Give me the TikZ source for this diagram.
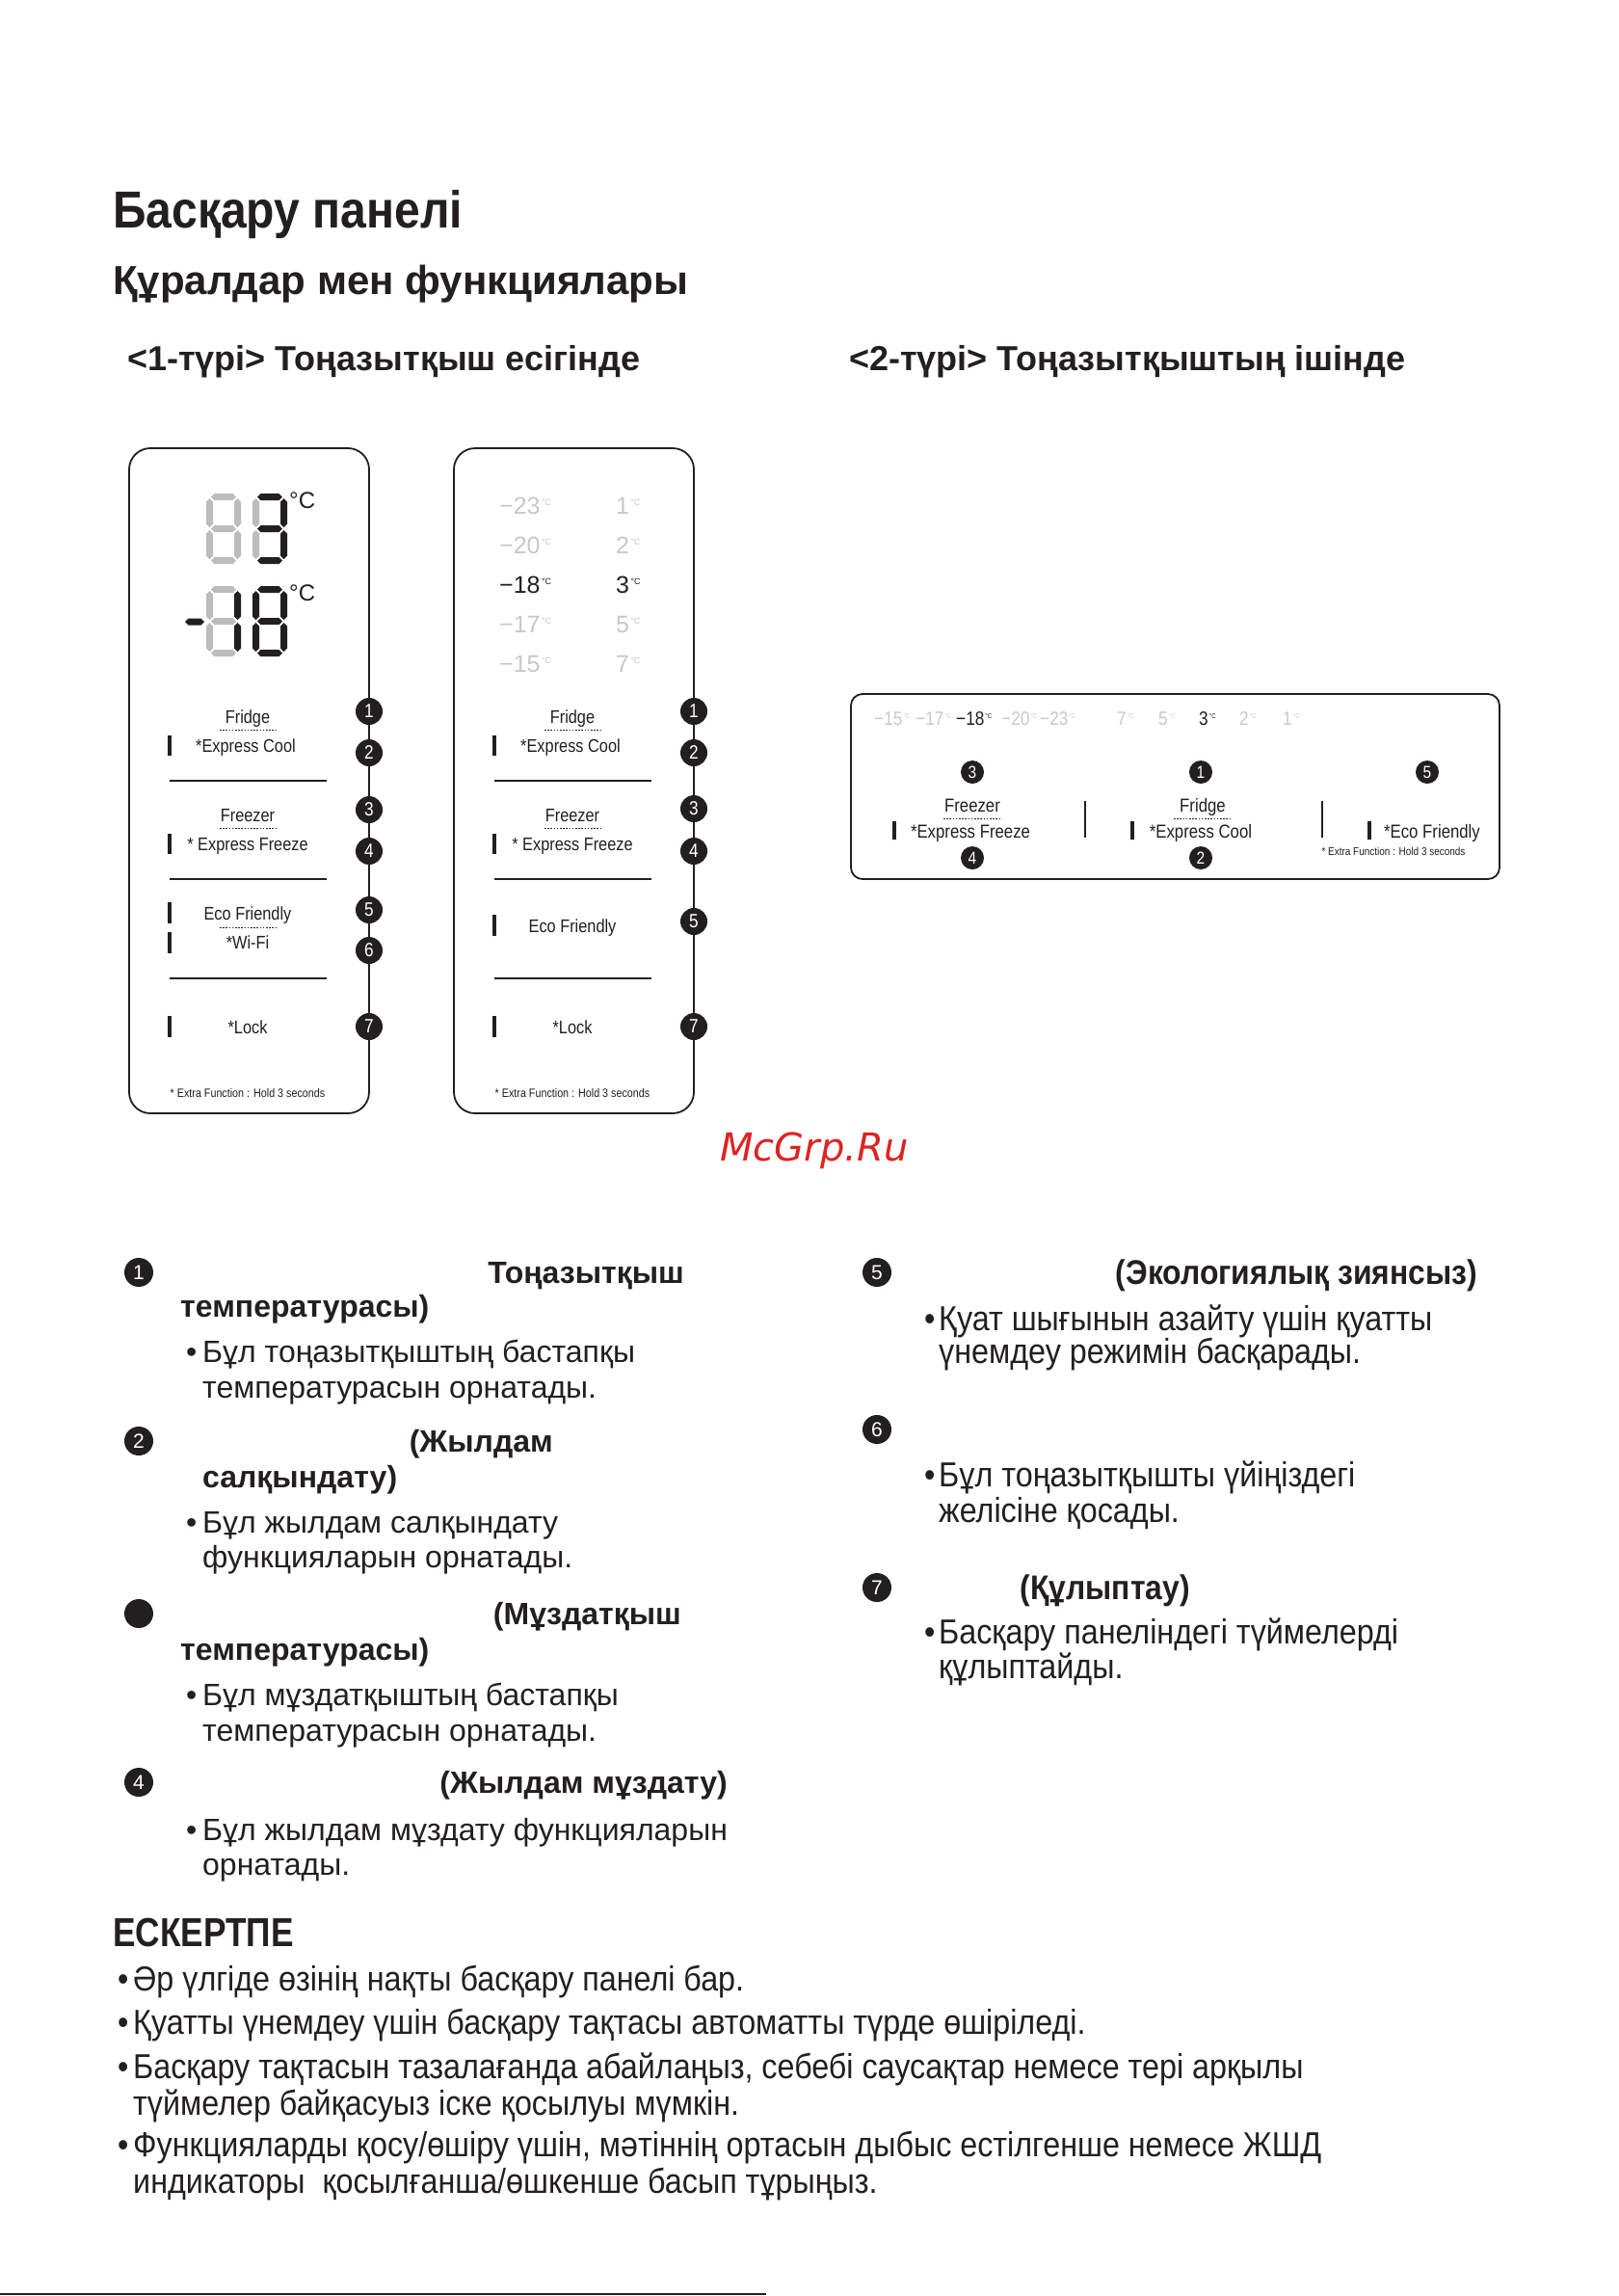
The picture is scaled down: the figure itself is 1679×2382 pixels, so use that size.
\documentclass[tikz,border=0pt]{standalone}
\usepackage{fontspec}
\setmainfont{Liberation Sans}
\newfontfamily\condf[FakeStretch=0.84]{Liberation Sans}
\newfontfamily\titlef[FakeStretch=0.89]{Liberation Sans}
\newfontfamily\narrowf[FakeStretch=0.897]{Liberation Sans}
\newfontfamily\panelf[FakeStretch=0.86]{Liberation Sans}
\newfontfamily\wmf{DejaVu Sans}
\newcommand\fsz[1]{\fontsize{#1}{#1}\selectfont}
\newcommand\bul[1]{\makebox[#1][l]{•}}
\newcommand\degsup[2]{\raisebox{#1}{\fsz{#2}\,°C}}
\definecolor{ink}{RGB}{35,31,32}
\definecolor{segoff}{RGB}{188,188,188}
\definecolor{tempoff}{RGB}{200,200,200}
\definecolor{wmred}{RGB}{222,35,35}
\newcommand\segH[4]{\fill[#4] ({#1},{#3}) -- ({#1+3.5},{#3-3.5}) -- ({#2-3.5},{#3-3.5}) -- ({#2},{#3}) -- ({#2-3.5},{#3+3.5}) -- ({#1+3.5},{#3+3.5}) -- cycle;}
\newcommand\segV[4]{\fill[#4] ({#1},{#2}) -- ({#1+3.5},{#2+3.5}) -- ({#1+3.5},{#3-3.5}) -- ({#1},{#3}) -- ({#1-3.5},{#3-3.5}) -- ({#1-3.5},{#2+3.5}) -- cycle;}
\newcommand\lcddigit[9]{%
  \segH{#1+5}{#1+31}{#2+3.5}{#3}%
  \segV{#1+32.5}{#2+5}{#2+35}{#4}%
  \segV{#1+32.5}{#2+38}{#2+68}{#5}%
  \segH{#1+5}{#1+31}{#2+69.5}{#6}%
  \segV{#1+3.5}{#2+38}{#2+68}{#7}%
  \segV{#1+3.5}{#2+5}{#2+35}{#8}%
  \segH{#1+5}{#1+31}{#2+36.5}{#9}%
}
\tikzset{
  every node/.style={inner sep=0pt, text=ink},
  tl/.style={anchor=base west},
  tr/.style={anchor=base east},
  ptxt/.style={anchor=base, font=\panelf\fsz{19}},
  psmall/.style={anchor=base, font=\panelf\fsz{12.5}},
  pnum/.style={circle, fill=ink, text=white, minimum size=28pt, inner sep=0pt, font=\panelf\fsz{20}},
  bnum/.style={circle, fill=ink, text=white, minimum size=30pt, inner sep=0pt, font=\fsz{21}},
  pbox/.style={draw=ink, line width=1.8pt, rounded corners=22pt},
  sepl/.style={draw=ink, line width=1.2pt},
  dotl/.style={draw=ink, line width=1pt, dash pattern=on 1.6pt off 1.6pt},
  ind/.style={draw=ink, line width=4.5pt},
  body/.style={anchor=base west, font=\fsz{32}},
  bhead/.style={font=\bfseries\fsz{32}},
  rbody/.style={anchor=base west, font=\narrowf\fsz{36}},
  rhead/.style={font=\narrowf\bfseries\fsz{35.5}},
  note/.style={anchor=base west, font=\narrowf\fsz{36}},
  ttl/.style={anchor=base west},
  tmpA/.style={anchor=base west, font=\fsz{25}},
  tmpB/.style={anchor=base west, font=\panelf\fsz{20}},
}
\begin{document}
\begin{tikzpicture}[x=1pt,y=-1pt]
\useasboundingbox (0,0) rectangle (1679,2382);
\fill[white] (0,0) rectangle (1679,2382);

% ---------- titles
\node[ttl, font=\titlef\bfseries\fsz{54}] (t1) at (117,236) {Басқару панелі};
\node[ttl, font=\bfseries\fsz{42}] (t2) at (117,305) {Құралдар мен функциялары};
\node[ttl, font=\bfseries\fsz{36}] (t3) at (132,384) {<1-түрі> Тоңазытқыш есігінде};
\node[ttl, font=\bfseries\fsz{36}] (t4) at (881,384) {<2-түрі> Тоңазытқыштың ішінде};

% ---------- panel 1
\draw[pbox] (134,465) rectangle (383,1155);
\lcddigit{214}{512}{segoff}{segoff}{segoff}{segoff}{segoff}{segoff}{segoff}
\lcddigit{262}{512}{ink}{ink}{ink}{ink}{segoff}{segoff}{ink}
\node[anchor=north west, font=\fsz{24}] (p1c1) at (300,511) {°C};
\segH{192}{212}{645}{ink}
\lcddigit{214}{608}{segoff}{ink}{ink}{segoff}{segoff}{segoff}{segoff}
\lcddigit{262}{608}{ink}{ink}{ink}{ink}{ink}{ink}{ink}
\node[anchor=north west, font=\fsz{24}] (p1c2) at (300,607) {°C};

\node[ptxt] (p1fr) at (257,750) {Fridge};
\draw[dotl] (228,757) -- (286,757);
\node[ptxt] (p1ec) at (255,780) {*Express Cool};
\draw[ind] (176,763) -- (176,784);
\draw[sepl] (176,810) -- (339,810);
\node[ptxt] (p1fz) at (257,852) {Freezer};
\draw[dotl] (228,859) -- (286,859);
\node[ptxt] (p1ef) at (257,882) {* Express Freeze};
\draw[ind] (176,865) -- (176,886);
\draw[sepl] (176,912) -- (339,912);
\node[ptxt] (p1eco) at (257,954) {Eco Friendly};
\draw[dotl] (228,962) -- (286,962);
\node[ptxt] (p1wf) at (257,984) {*Wi-Fi};
\draw[ind] (176,936) -- (176,958);
\draw[ind] (176,967) -- (176,989);
\draw[sepl] (176,1015) -- (339,1015);
\node[ptxt] (p1lk) at (257,1072) {*Lock};
\draw[ind] (176,1054) -- (176,1076);
\node[psmall] (p1x) at (257,1138) {* Extra Function : Hold 3 seconds};

\node[pnum] (p1n1) at (383,738) {1};
\node[pnum] (p1n2) at (383,781) {2};
\node[pnum] (p1n3) at (383,840) {3};
\node[pnum] (p1n4) at (383,883) {4};
\node[pnum] (p1n5) at (383,944) {5};
\node[pnum] (p1n6) at (383,986) {6};
\node[pnum] (p1n7) at (383,1065) {7};

% ---------- panel 2
\draw[pbox] (471,465) rectangle (720,1155);
\node[tmpA, text=tempoff] (p2a1) at (518,533) {−23\degsup{9pt}{9}};
\node[tmpA, text=tempoff] (p2a2) at (518,574) {−20\degsup{9pt}{9}};
\node[tmpA] (p2a3) at (518,615) {−18\degsup{9pt}{9}};
\node[tmpA, text=tempoff] (p2a4) at (518,656) {−17\degsup{9pt}{9}};
\node[tmpA, text=tempoff] (p2a5) at (518,697) {−15\degsup{9pt}{9}};
\node[tmpA, text=tempoff] (p2b1) at (639,533) {1\degsup{9pt}{9}};
\node[tmpA, text=tempoff] (p2b2) at (639,574) {2\degsup{9pt}{9}};
\node[tmpA] (p2b3) at (639,615) {3\degsup{9pt}{9}};
\node[tmpA, text=tempoff] (p2b4) at (639,656) {5\degsup{9pt}{9}};
\node[tmpA, text=tempoff] (p2b5) at (639,697) {7\degsup{9pt}{9}};

\node[ptxt] (p2fr) at (594,750) {Fridge};
\draw[dotl] (565,757) -- (623,757);
\node[ptxt] (p2ec) at (592,780) {*Express Cool};
\draw[ind] (513,763) -- (513,784);
\draw[sepl] (513,810) -- (676,810);
\node[ptxt] (p2fz) at (594,852) {Freezer};
\draw[dotl] (565,859) -- (623,859);
\node[ptxt] (p2ef) at (594,882) {* Express Freeze};
\draw[ind] (513,865) -- (513,886);
\draw[sepl] (513,912) -- (676,912);
\node[ptxt] (p2eco) at (594,967) {Eco Friendly};
\draw[ind] (513,949) -- (513,971);
\draw[sepl] (513,1015) -- (676,1015);
\node[ptxt] (p2lk) at (594,1072) {*Lock};
\draw[ind] (513,1054) -- (513,1076);
\node[psmall] (p2x) at (594,1138) {* Extra Function : Hold 3 seconds};

\node[pnum] (p2n1) at (720,738) {1};
\node[pnum] (p2n2) at (720,781) {2};
\node[pnum] (p2n3) at (720,839) {3};
\node[pnum] (p2n4) at (720,883) {4};
\node[pnum] (p2n5) at (720,956) {5};
\node[pnum] (p2n7) at (720,1065) {7};

% ---------- panel 3
\draw[draw=ink, line width=1.8pt, rounded corners=12pt] (883,720) rectangle (1556,912);
\node[tmpB, text=tempoff] (p3a1) at (907,752) {−15\degsup{7pt}{7}};
\node[tmpB, text=tempoff] (p3a2) at (950,752) {−17\degsup{7pt}{7}};
\node[tmpB] (p3a3) at (992,752) {−18\degsup{7pt}{7}};
\node[tmpB, text=tempoff] (p3a4) at (1039,752) {−20\degsup{7pt}{7}};
\node[tmpB, text=tempoff] (p3a5) at (1079,752) {−23\degsup{7pt}{7}};
\node[tmpB, text=tempoff] (p3b1) at (1159,752) {7\degsup{7pt}{7}};
\node[tmpB, text=tempoff] (p3b2) at (1202,752) {5\degsup{7pt}{7}};
\node[tmpB] (p3b3) at (1244,752) {3\degsup{7pt}{7}};
\node[tmpB, text=tempoff] (p3b4) at (1286,752) {2\degsup{7pt}{7}};
\node[tmpB, text=tempoff] (p3b5) at (1331,752) {1\degsup{7pt}{7}};

\node[pnum, minimum size=24pt, font=\panelf\fsz{18}] (p3n3) at (1009,801) {3};
\node[pnum, minimum size=24pt, font=\panelf\fsz{18}] (p3n1) at (1246,801) {1};
\node[pnum, minimum size=24pt, font=\panelf\fsz{18}] (p3n5) at (1481,801) {5};
\node[pnum, minimum size=24pt, font=\panelf\fsz{18}] (p3n4) at (1009,890) {4};
\node[pnum, minimum size=24pt, font=\panelf\fsz{18}] (p3n2) at (1246,890) {2};

\node[ptxt, font=\panelf\fsz{19.5}] (p3fz) at (1009,842) {Freezer};
\draw[dotl] (979,849) -- (1039,849);
\node[ptxt, font=\panelf\fsz{19.5}] (p3ef) at (1007,869) {*Express Freeze};
\draw[ind, line width=4pt] (928,852) -- (928,871);
\draw[sepl] (1126,831) -- (1126,869);
\node[ptxt, font=\panelf\fsz{19.5}] (p3fr) at (1248,842) {Fridge};
\draw[dotl] (1218,849) -- (1278,849);
\node[ptxt, font=\panelf\fsz{19.5}] (p3ec) at (1246,869) {*Express Cool};
\draw[ind, line width=4pt] (1175,852) -- (1175,871);
\draw[sepl] (1372,831) -- (1372,869);
\node[ptxt, font=\panelf\fsz{19.5}] (p3eco) at (1486,869) {*Eco Friendly};
\draw[ind, line width=4pt] (1421,852) -- (1421,871);
\node[psmall, font=\panelf\fsz{11.6}] (p3x) at (1446,887) {* Extra Function : Hold 3 seconds};

% ---------- watermark
\node[font=\wmf\itshape\fsz{40}, text=wmred] (wm) at (845,1194) {McGrp.Ru};

% ---------- descriptions, left column
\node[bnum] (d1) at (144,1320) {1};
\node[tr, bhead] (l1a) at (710,1331) {Тоңазытқыш};
\node[tl, bhead] (l1b) at (187,1366) {температурасы)};
\node[body] (l1c) at (193,1413) {\bul{17pt}Бұл тоңазытқыштың бастапқы};
\node[body] (l1d) at (210,1450) {температурасын орнатады.};

\node[bnum] (d2) at (144,1495) {2};
\node[tr, bhead] (l2a) at (574,1506) {(Жылдам};
\node[tl, bhead] (l2b) at (210,1543) {салқындату)};
\node[body] (l2c) at (193,1590) {\bul{17pt}Бұл жылдам салқындату};
\node[body] (l2d) at (210,1626) {функцияларын орнатады.};

\node[bnum] (d3) at (144,1674) {};
\node[tr, bhead] (l3a) at (707,1685) {(Мұздатқыш};
\node[tl, bhead] (l3b) at (187,1722) {температурасы)};
\node[body] (l3c) at (193,1769) {\bul{17pt}Бұл мұздатқыштың бастапқы};
\node[body] (l3d) at (210,1806) {температурасын орнатады.};

\node[bnum] (d4) at (144,1849) {4};
\node[tr, bhead] (l4a) at (755,1860) {(Жылдам мұздату)};
\node[body] (l4b) at (193,1909) {\bul{17pt}Бұл жылдам мұздату функцияларын};
\node[body] (l4c) at (210,1945) {орнатады.};

% ---------- descriptions, right column
\node[bnum] (d5) at (910,1320) {5};
\node[tr, rhead] (r5a) at (1533,1332) {(Экологиялық зиянсыз)};
\node[rbody] (r5b) at (959,1380) {\bul{15pt}Қуат шығынын азайту үшін қуатты};
\node[rbody] (r5c) at (974,1414) {үнемдеу режимін басқарады.};

\node[bnum] (d6) at (910,1483) {6};
\node[rbody] (r6b) at (959,1542) {\bul{15pt}Бұл тоңазытқышты үйіңіздегі};
\node[rbody] (r6c) at (974,1579) {желісіне қосады.};

\node[bnum] (d7) at (910,1647) {7};
\node[tr, rhead] (r7a) at (1235,1659) {(Құлыптау)};
\node[rbody] (r7b) at (959,1705) {\bul{15pt}Басқару панеліндегі түймелерді};
\node[rbody] (r7c) at (974,1741) {құлыптайды.};

% ---------- notes
\node[tl, font=\condf\bfseries\fsz{42}] (nh) at (117,2019) {ЕСКЕРТПЕ};
\node[note] (n1) at (122,2065) {\bul{16pt}Әр үлгіде өзінің нақты басқару панелі бар.};
\node[note] (n2) at (122,2110) {\bul{16pt}Қуатты үнемдеу үшін басқару тақтасы автоматты түрде өшіріледі.};
\node[note] (n3) at (122,2156) {\bul{16pt}Басқару тақтасын тазалағанда абайлаңыз, себебі саусақтар немесе тері арқылы};
\node[note] (n3b) at (138,2194) {түймелер байқасуыз іске қосылуы мүмкін.};
\node[note] (n4) at (122,2237) {\bul{16pt}Функцияларды қосу/өшіру үшін, мәтіннің ортасын дыбыс естілгенше немесе ЖШД};
\node[note] (n4b) at (138,2275) {индикаторы\ \ қосылғанша/өшкенше басып тұрыңыз.};

% ---------- bottom rule
\draw[ink, line width=2.5pt] (0,2380) -- (795,2380);
\end{tikzpicture}
\end{document}
